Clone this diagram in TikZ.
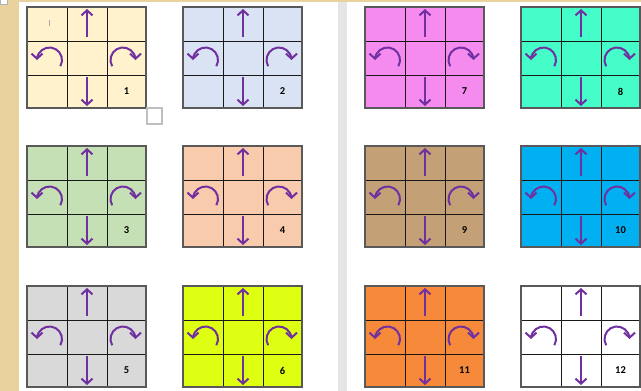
\documentclass[tikz,border=0pt]{standalone}
\usepackage{fontspec}
\setmainfont{Carlito}
\usetikzlibrary{arrows.meta}
\definecolor{c1}{HTML}{FFF2CC}
\definecolor{c2}{HTML}{DAE3F3}
\definecolor{c3}{HTML}{C5E0B4}
\definecolor{c4}{HTML}{F8CBAD}
\definecolor{c5}{HTML}{D9D9D9}
\definecolor{c6}{HTML}{DFFF12}
\definecolor{c7}{HTML}{F68BEF}
\definecolor{c8}{HTML}{45FDC9}
\definecolor{c9}{HTML}{C4A077}
\definecolor{c10}{HTML}{00B0F0}
\definecolor{c11}{HTML}{F68A3A}
\definecolor{c12}{HTML}{FFFFFF}
\definecolor{arrowpurple}{HTML}{7030A0}
\definecolor{paper}{HTML}{E9D29E}
\begin{document}
\begin{tikzpicture}[x=1pt,y=-1pt,
  gridouter/.style={draw=black!65,line width=1.4pt},
  gridinner/.style={draw=black!90,line width=0.9pt},
  movearrow/.style={draw=arrowpurple,line width=2pt,-{Straight Barb[length=5pt,width=11pt]}},
  cardnum/.style={font=\fontsize{10.5}{11}\selectfont\bfseries,text=black,inner sep=0pt}]
\useasboundingbox (0,0) rectangle (641,391);
\fill[white] (0,0) rectangle (641,391);
\fill[paper] (0,0) rectangle (19,391);
\fill[paper] (19,0) rectangle (641,2);
\draw[black!30,fill=white,line width=0.6pt] (0,-1) rectangle (7,4);
\fill[black!10] (338,2) rectangle (347,391);
\foreach \gx/\gy/\gc/\gn in {27/7/c1/1, 183/7/c2/2, 27/146/c3/3, 183/146/c4/4, 27/286/c5/5, 183/286/c6/6, 365/7/c7/7, 521/7/c8/8, 365/146/c9/9, 521/146/c10/10, 365/286/c11/11, 521/286/c12/12}{
 \begin{scope}[shift={(\gx,\gy)}]
  \fill[\gc] (0,0) rectangle (119,101);
  \draw[gridinner] (40,0) -- (40,101) (80,0) -- (80,101) (0,34) -- (119,34) (0,68) -- (119,68);
  \draw[gridouter] (0,0) rectangle (119,101);
  \draw[movearrow] (60,30) -- (60,2);
  \draw[movearrow] (60,70) -- (60,99);
  \draw[movearrow] ([shift={(30:12.5)}]22.5,53) arc[start angle=30,end angle=-180,radius=12.5];
  \draw[movearrow] ([shift={(150:12.5)}]96,53) arc[start angle=150,end angle=360,radius=12.5];
  \node[cardnum] (num\gn) at (99.5,84.5) {\gn};
 \end{scope}}
\draw[black!35,line width=0.6pt] (49,20) -- (49,26);
\draw[black!25,line width=1.5pt] (147,108) rectangle (162,124);
\end{tikzpicture}
\end{document}
